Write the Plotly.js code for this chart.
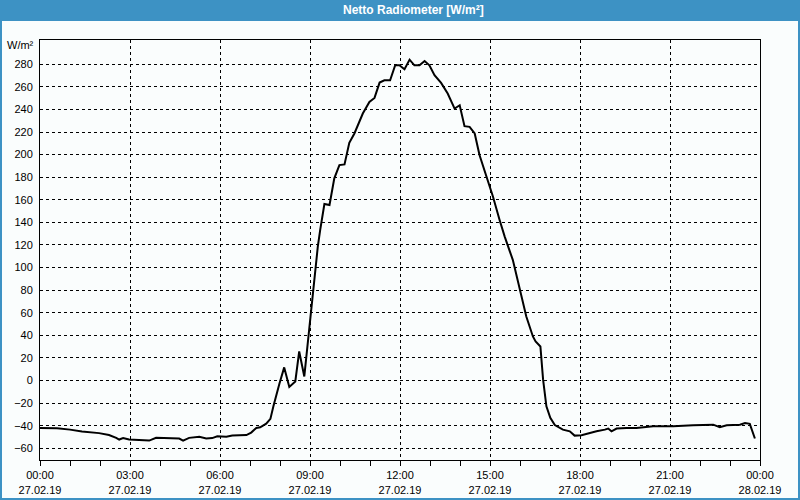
<!DOCTYPE html>
<html>
<head>
<meta charset="utf-8">
<script src="https://cdn.plot.ly/plotly-3.0.1.min.js"></script>
<style>
html,body{margin:0;padding:0;background:#fafdfd;}
#chart{width:800px;height:500px;}
</style>
</head>
<body>
<div id="chart"></div>
<script>
// Time of day in hours (27.02.19 00:00 = 0)
const hours = [0.00,0.57,1.00,1.40,1.97,2.30,2.54,2.64,2.77,2.97,3.30,3.64,3.87,4.31,4.64,4.77,4.97,5.31,5.54,5.74,5.91,6.21,6.41,6.88,7.04,7.21,7.34,7.54,7.68,7.78,7.88,7.98,8.14,8.31,8.51,8.64,8.81,8.92,8.98,9.04,9.11,9.18,9.26,9.34,9.48,9.65,9.81,9.98,10.15,10.31,10.48,10.76,10.98,11.15,11.32,11.48,11.67,11.84,11.98,12.15,12.32,12.48,12.65,12.82,12.98,13.15,13.37,13.59,13.82,13.99,14.15,14.32,14.49,14.65,14.88,15.10,15.32,15.49,15.76,15.99,16.21,16.43,16.52,16.68,16.77,16.88,17.01,17.16,17.43,17.66,17.82,18.05,18.32,18.55,18.83,18.94,19.05,19.22,19.55,19.88,20.44,21.11,21.77,22.44,22.66,22.89,23.33,23.50,23.66,23.83];
// Net radiation, W/m²
const values = [-42.0,-42.2,-43.5,-45.2,-46.6,-48.3,-50.8,-52.3,-51.0,-52.3,-52.8,-53.2,-50.8,-51.0,-51.4,-53.2,-50.8,-49.9,-51.4,-51.0,-49.4,-49.9,-48.8,-48.3,-46.1,-42.0,-41.4,-38.2,-34.0,-22.9,-12.5,-2.8,11.6,-5.7,-0.8,25.7,3.6,33.1,44.9,65.5,80.2,100.8,118.5,133.3,156.3,155.4,179.0,190.7,191.3,210.4,218.7,236.4,246.7,250.2,263.8,265.8,265.8,279.1,279.1,275.6,284.1,279.1,279.1,282.9,279.1,270.3,263.5,254.1,240.8,243.7,225.2,224.6,218.7,199.6,180.4,162.7,142.1,127.4,106.8,80.3,56.7,39.0,34.6,30.1,0.7,-22.9,-33.1,-39.5,-43.5,-45.0,-48.8,-48.5,-46.4,-45.0,-43.5,-42.6,-45.0,-42.6,-42.0,-42.0,-40.6,-40.6,-39.7,-39.1,-41.4,-39.7,-39.1,-37.6,-38.4,-51.4];

const xTickVals = [0,3,6,9,12,15,18,21,24];
const xTickTime = ["00:00","03:00","06:00","09:00","12:00","15:00","18:00","21:00","00:00"];
const xTickDate = ["27.02.19","27.02.19","27.02.19","27.02.19","27.02.19","27.02.19","27.02.19","27.02.19","28.02.19"];
const yTickVals = [-60,-40,-20,0,20,40,60,80,100,120,140,160,180,200,220,240,260,280];
const chartTitle = "Netto Radiometer [W/m²]";
const unitLabel = "W/m²";

const FONT = "Liberation Sans, Arial, sans-serif";
const BLUE = "#3d92c4";
const L = 40, R = 40, T = 40, B = 40, W = 800, H = 500;
const pw = W - L - R, ph = H - T - B;
const px = v => (v - L) / pw;        // pixel -> paper x
const py = v => (H - B - v) / ph;    // pixel -> paper y

const trace = {
  x: hours, y: values, type: "scatter", mode: "lines",
  line: {color: "#000", width: 2}, hoverinfo: "skip"
};

const layout = {
  width: W, height: H,
  margin: {l: L, r: R, t: T, b: B, pad: 0},
  paper_bgcolor: "#fafdfd", plot_bgcolor: "#fafdfd",
  showlegend: false,
  font: {family: FONT, size: 11, color: "#000"},
  xaxis: {
    range: [0, 24], fixedrange: true,
    tickvals: xTickVals,
    ticktext: xTickVals.map((v, i) => xTickTime[i] + "<br>" + xTickDate[i]),
    ticks: "outside", ticklen: 5, tickcolor: "#000", tickwidth: 1,
    minor: {dtick: 1, ticks: "outside", ticklen: 5, tickcolor: "#000", showgrid: false},
    showgrid: true, gridcolor: "#000", gridwidth: 1, griddash: "3px,3px",
    showline: true, linecolor: "#000", linewidth: 1, mirror: true,
    zeroline: false, tickfont: {family: FONT, size: 11, color: "#000"}
  },
  yaxis: {
    range: [-70.4, 301.5], fixedrange: true,
    tickvals: yTickVals,
    ticks: "outside", ticklen: 4, tickcolor: "rgba(0,0,0,0)",
    showgrid: true, gridcolor: "#000", gridwidth: 1, griddash: "3px,3px",
    showline: true, linecolor: "#000", linewidth: 1, mirror: true,
    zeroline: false, tickfont: {family: FONT, size: 11, color: "#000"}
  },
  shapes: [
    {type: "rect", xref: "paper", yref: "paper", x0: px(0), x1: px(800), y0: py(0), y1: py(20),
     fillcolor: BLUE, line: {width: 0}, layer: "below"},
    {type: "rect", xref: "paper", yref: "paper", x0: px(1), x1: px(799), y0: py(20), y1: py(499),
     fillcolor: "rgba(0,0,0,0)", line: {color: BLUE, width: 2}}
  ],
  annotations: [
    {text: "<b>" + chartTitle + "</b>", xref: "paper", yref: "paper", x: px(413), y: py(10),
     xanchor: "center", yanchor: "middle", showarrow: false,
     font: {family: FONT, size: 12, color: "#fff"}},
    {text: unitLabel, xref: "paper", yref: "paper", x: px(36), y: py(45), xanchor: "right", yanchor: "middle",
     showarrow: false, font: {family: FONT, size: 11, color: "#000"}}
  ]
};

Plotly.newPlot("chart", [trace], layout, {displayModeBar: false, staticPlot: true});
</script>
</body>
</html>
